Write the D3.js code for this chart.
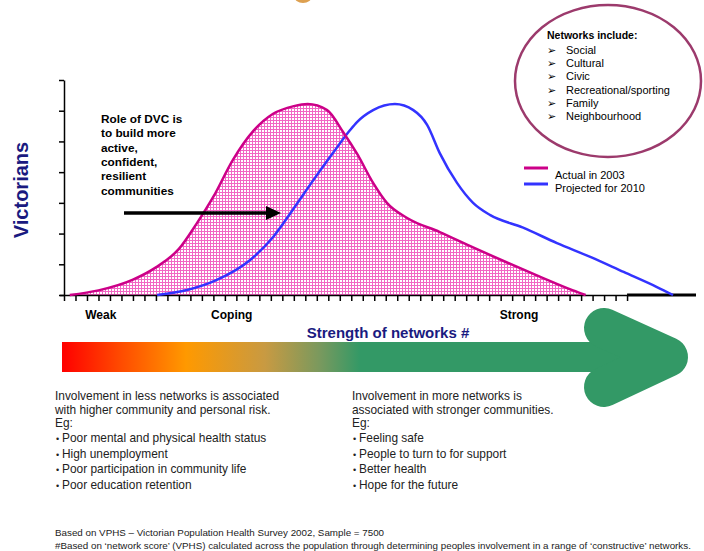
<!DOCTYPE html>
<html>
<head>
<meta charset="utf-8">
<script src="https://cdn.jsdelivr.net/npm/d3@7"></script>
<style>
  body { margin: 0; background: #fff; }
  text { font-family: Arial, "Liberation Sans", sans-serif; }
</style>
</head>
<body>
<script>
// network score (x) and number of Victorians (y)
const actualScore = [0.5, 3, 6, 8, 10, 11.5, 13, 14.7, 16.5, 18.2, 20, 21.2, 22.9, 24.3, 25.5, 26.9, 28.1, 29.9, 32.7, 35.6, 38.6, 41.4, 44.3, 45.4];
const actualVictorians = [0, 0.15, 0.5, 0.9, 1.5, 2.3, 3.2, 4.4, 5.35, 5.9, 6.15, 6.22, 6.02, 5.3, 4.6, 3.65, 3.0, 2.5, 2.05, 1.55, 1.05, 0.6, 0.15, 0];
const projectedScore = [8.1, 10.7, 13.3, 16.2, 18.2, 19.9, 21.7, 23.4, 24.9, 25.5, 26.9, 28.8, 30.4, 31.6, 32.7, 34.2, 35.6, 37.1, 39.9, 42.9, 45.8, 48.7, 51.6, 53.0];
const projectedVictorians = [0, 0.16, 0.49, 1.14, 1.89, 2.77, 3.74, 4.62, 5.37, 5.63, 6.02, 6.22, 6.02, 5.54, 4.62, 3.65, 3.0, 2.6, 2.2, 1.69, 1.24, 0.75, 0.26, 0];

const seriesNames = ["Actual in 2003", "Projected for 2010"];
const bandLabels = ["Weak", "Coping", "Strong"];
const bandScores = [3.2, 14.6, 39.6];
const xTickValues = d3.range(0, 50);
const yTickValues = d3.range(0, 8);

const networkTypes = ["Social", "Cultural", "Civic", "Recreational/sporting", "Family", "Neighbourhood"];
const roleLines = ["Role of DVC is", "to build more", "active,", "confident,", "resilient", "communities"];
const lessIntro = ["Involvement in less networks is associated", "with higher community and personal risk.", "Eg:"];
const lessItems = ["Poor mental and physical health status", "High unemployment", "Poor participation in community life", "Poor education retention"];
const moreIntro = ["Involvement in more networks is", "associated with stronger communities.", "Eg:"];
const moreItems = ["Feeling safe", "People to turn to for support", "Better health", "Hope for the future"];
const footnotes = [
    "Based on VPHS \u2013 Victorian Population Health Survey 2002, Sample = 7500",
    "#Based on \u2018network score\u2019 (VPHS) calculated across the population through determining peoples involvement in a range of \u2018constructive\u2019 networks."
];

const w = 704;
const h = 551;
const pink = "#cc0088";
const blue = "#3333ff";
const navy = "#1a1a80";
const green = "#339966";

const svg = d3.select("body")
    .append("svg")
    .attr("width", w)
    .attr("height", h);

const defs = svg.append("defs");

// pink cross-hatch fill under the 2003 curve
const grid = defs.append("pattern")
    .attr("id", "grid")
    .attr("width", 3)
    .attr("height", 3)
    .attr("patternUnits", "userSpaceOnUse");
grid.append("rect").attr("width", 3).attr("height", 3).attr("fill", "#fff");
grid.append("path")
    .attr("d", "M0,0.5H3M0.5,0V3")
    .attr("stroke", "#f266c4")
    .attr("stroke-width", 1);

// red -> orange -> green for the big arrow
const grad = defs.append("linearGradient")
    .attr("id", "strength")
    .attr("gradientUnits", "userSpaceOnUse")
    .attr("x1", 62).attr("x2", 690)
    .attr("y1", 0).attr("y2", 0);
[[62, "#ff0000"], [120, "#ff4a00"], [186, "#ff9900"], [265, "#c89a42"], [320, "#79995e"], [360, green]]
    .forEach(function(s) {
        grad.append("stop")
            .attr("offset", (s[0] - 62) / 628)
            .attr("stop-color", s[1]);
    });

// small orange shape clipped at the top edge
svg.append("ellipse")
    .attr("cx", 303).attr("cy", -4)
    .attr("rx", 9).attr("ry", 7)
    .attr("fill", "#dda050");

const x = d3.scaleLinear()
    .domain([0, 55])
    .range([64, 696]);

const y = d3.scaleLinear()
    .domain([0, 7])
    .range([295, 80]);

const actual = actualScore.map(function(d, i) { return [d, actualVictorians[i]]; });
const projected = projectedScore.map(function(d, i) { return [d, projectedVictorians[i]]; });

const area = d3.area()
    .x(function(d) { return x(d[0]); })
    .y0(y(0))
    .y1(function(d) { return y(d[1]); })
    .curve(d3.curveMonotoneX);

const line = d3.line()
    .x(function(d) { return x(d[0]); })
    .y(function(d) { return y(d[1]); })
    .curve(d3.curveMonotoneX);

svg.append("path")
    .datum(actual)
    .attr("d", area)
    .attr("fill", "url(#grid)");

// axes
const yAxis = svg.append("g")
    .attr("transform", "translate(64,0)")
    .call(d3.axisLeft(y).tickValues(yTickValues).tickSize(5).tickSizeOuter(0).tickFormat(""));

const xAxis = svg.append("g")
    .attr("transform", "translate(0,295)")
    .call(d3.axisBottom(x).tickValues(xTickValues).tickSize(6).tickSizeOuter(0).tickFormat(""));
xAxis.select(".domain").attr("d", "M60,0.5H" + x(49));

[yAxis, xAxis].forEach(function(g) {
    g.selectAll("line, path").attr("stroke", "#000").attr("stroke-width", 1.5);
});

// thick black stub past the last tick
svg.append("line")
    .attr("x1", x(49)).attr("x2", x(55))
    .attr("y1", y(0)).attr("y2", y(0))
    .attr("stroke", "#000")
    .attr("stroke-width", 3);

svg.append("path")
    .datum(projected)
    .attr("d", line)
    .attr("fill", "none")
    .attr("stroke", blue)
    .attr("stroke-width", 2.5);

svg.append("path")
    .datum(actual)
    .attr("d", line)
    .attr("fill", "none")
    .attr("stroke", pink)
    .attr("stroke-width", 2.5);

// axis titles
svg.append("text")
    .attr("transform", "translate(28,190) rotate(-90)")
    .attr("text-anchor", "middle")
    .attr("font-size", 20)
    .attr("font-weight", "bold")
    .attr("fill", navy)
    .text("Victorians");

svg.append("text")
    .attr("x", 388)
    .attr("y", 338)
    .attr("text-anchor", "middle")
    .attr("font-size", 15)
    .attr("font-weight", "bold")
    .attr("fill", navy)
    .text("Strength of networks #");

svg.selectAll(".band")
    .data(bandLabels)
    .enter()
    .append("text")
    .attr("class", "band")
    .attr("x", function(d, i) { return x(bandScores[i]); })
    .attr("y", 319)
    .attr("text-anchor", "middle")
    .attr("font-size", 12)
    .attr("font-weight", "bold")
    .text(function(d) { return d; });

// role annotation + black arrow
svg.append("text")
    .attr("font-size", 11.8)
    .attr("font-weight", "bold")
    .selectAll("tspan")
    .data(roleLines)
    .enter()
    .append("tspan")
    .attr("x", 101)
    .attr("y", function(d, i) { return 123 + i * 14.3; })
    .text(function(d) { return d; });

svg.append("line")
    .attr("x1", 124).attr("x2", 268)
    .attr("y1", 213).attr("y2", 213)
    .attr("stroke", "#000")
    .attr("stroke-width", 3.5);
svg.append("path")
    .attr("d", "M266,206L281,213L266,220Z")
    .attr("fill", "#000");

// legend
const legend = svg.append("g");
[pink, blue].forEach(function(c, i) {
    legend.append("line")
        .attr("x1", 524).attr("x2", 548)
        .attr("y1", 168 + i * 16).attr("y2", 168 + i * 16)
        .attr("stroke", c)
        .attr("stroke-width", 3);
    legend.append("text")
        .attr("x", 555)
        .attr("y", 179 + i * 13)
        .attr("font-size", 11)
        .text(seriesNames[i]);
});

// networks ellipse
svg.append("ellipse")
    .attr("cx", 608).attr("cy", 81)
    .attr("rx", 93).attr("ry", 76)
    .attr("fill", "none")
    .attr("stroke", "#9c3a6c")
    .attr("stroke-width", 2.5);

svg.append("text")
    .attr("x", 547)
    .attr("y", 39)
    .attr("font-size", 10.5)
    .attr("font-weight", "bold")
    .text("Networks include:");

const nets = svg.selectAll(".net")
    .data(networkTypes)
    .enter()
    .append("g")
    .attr("class", "net")
    .attr("transform", function(d, i) { return "translate(0," + (54 + i * 13.2) + ")"; });
nets.append("text")
    .attr("x", 547)
    .attr("font-size", 11)
    .attr("font-family", "'DejaVu Sans', sans-serif")
    .text("\u27A2");
nets.append("text")
    .attr("x", 566)
    .attr("font-size", 11)
    .text(function(d) { return d; });

// big gradient arrow
svg.append("rect")
    .attr("x", 62).attr("y", 342)
    .attr("width", 600).attr("height", 30)
    .attr("fill", "url(#strength)");
svg.append("path")
    .attr("d", "M604,328L668,357L604,387")
    .attr("fill", "none")
    .attr("stroke", green)
    .attr("stroke-width", 40)
    .attr("stroke-linecap", "round")
    .attr("stroke-linejoin", "round");

// two text columns under the arrow
function column(x0, intro, items) {
    const g = svg.append("g").attr("font-size", 11.9).attr("fill", "#222");
    g.selectAll(".intro")
        .data(intro)
        .enter()
        .append("text")
        .attr("x", x0)
        .attr("y", function(d, i) { return 400 + i * 13.5; })
        .text(function(d) { return d; });
    const rows = g.selectAll(".item")
        .data(items)
        .enter()
        .append("g")
        .attr("transform", function(d, i) { return "translate(0," + (442 + i * 15.5) + ")"; });
    rows.append("text")
        .attr("x", x0 + 1)
        .attr("font-size", 9)
        .text("\u2022");
    rows.append("text")
        .attr("x", x0 + 7)
        .text(function(d) { return d; });
}
column(55, lessIntro, lessItems);
column(352, moreIntro, moreItems);

// footnotes
svg.selectAll(".foot")
    .data(footnotes)
    .enter()
    .append("text")
    .attr("class", "foot")
    .attr("x", 55)
    .attr("y", function(d, i) { return 536 + i * 13; })
    .attr("font-size", 9.8)
    .attr("fill", "#222")
    .text(function(d) { return d; });
</script>
</body>
</html>
